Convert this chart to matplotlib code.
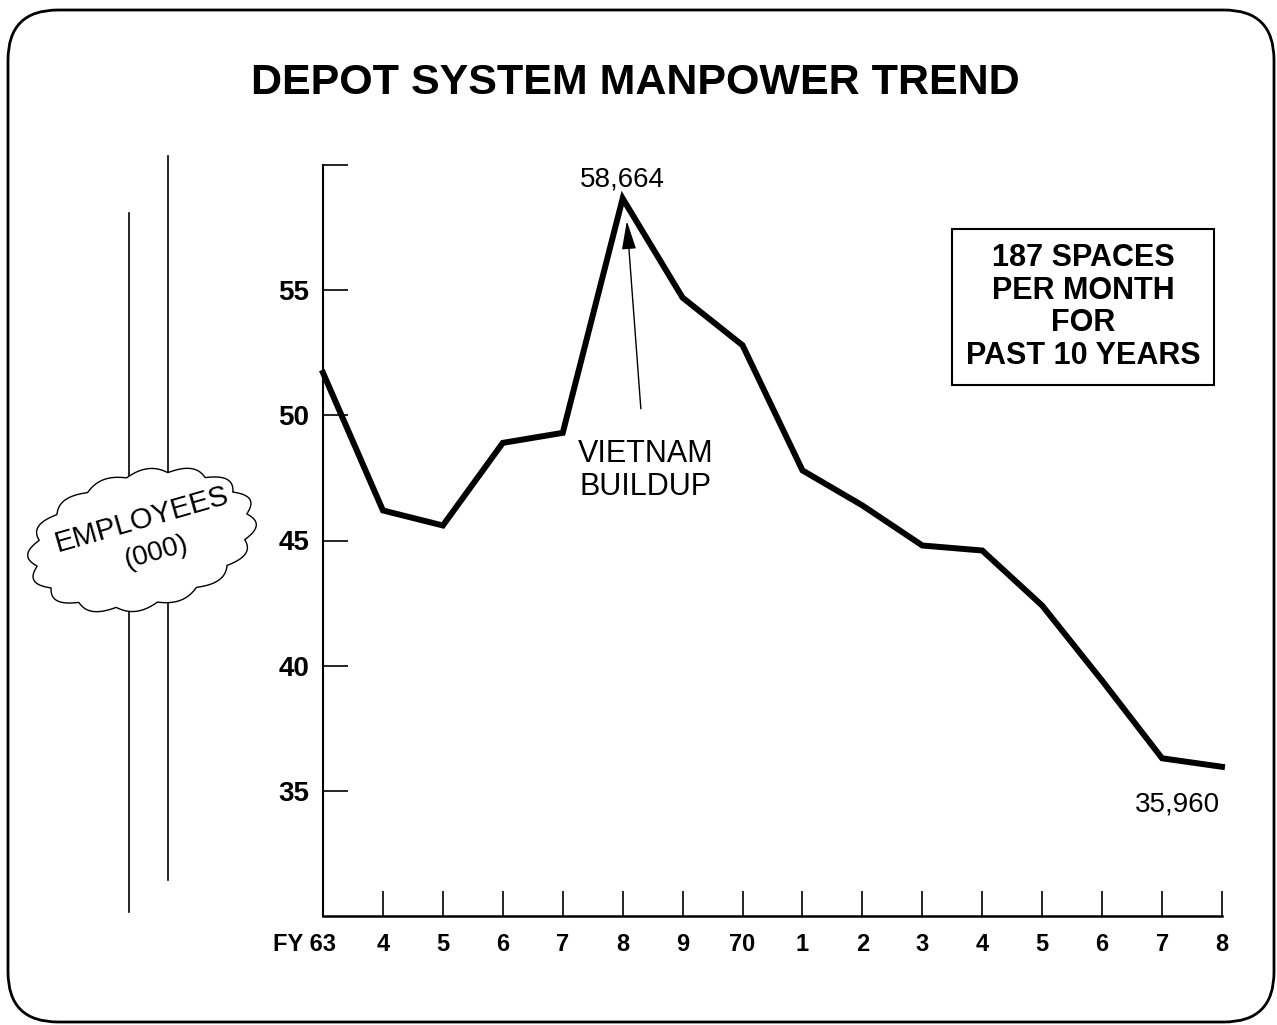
import numpy as np
import matplotlib.pyplot as plt
import matplotlib.transforms as mtransforms
from matplotlib.patches import FancyBboxPatch, Polygon
from matplotlib.lines import Line2D

years = ["FY 63", "4", "5", "6", "7", "8", "9", "70", "1", "2", "3", "4", "5", "6", "7", "8"]
employees = [51.7, 46.2, 45.6, 48.9, 49.3, 58.664, 54.7, 52.8, 47.8, 46.4, 44.8, 44.6, 42.4, 39.4, 36.3, 35.96]
y_ticks = [35, 40, 45, 50, 55, 60]
y_tick_labels = ["35", "40", "45", "50", "55", ""]

plt.rcParams['font.family'] = ['Liberation Sans', 'DejaVu Sans']

fig = plt.figure(figsize=(12.77, 10.25), dpi=100)
W, H = 1277, 1025


def px(x, y):
    # pixel position (from top-left) -> inches for dpi_scale_trans
    return x / 100, (H - y) / 100


# rounded card border
border = FancyBboxPatch(px(8, 1022), (1274 - 8) / 100, (1022 - 10) / 100,
                        boxstyle="round,pad=0,rounding_size=0.5",
                        transform=fig.dpi_scale_trans, fill=False,
                        lw=2.0, ec="black")
fig.patches.append(border)

fig.text(635 / W, 1 - 83 / H, "DEPOT SYSTEM MANPOWER TREND", ha="center", va="center",
         fontsize=31, fontweight="bold")

ax = fig.add_axes([323 / W, 1 - 916 / H, (1222 - 323) / W, (916 - 165) / H])
x = np.arange(len(years))
ax.plot(x, employees, color="black", lw=4.3, solid_joinstyle="miter", clip_on=False)
ax.set_xlim(0, len(years) - 1)
ax.set_ylim(30, 60)
for s in ["top", "right"]:
    ax.spines[s].set_visible(False)
ax.spines["left"].set_linewidth(1.5)
ax.spines["bottom"].set_linewidth(1.8)
ax.set_yticks(y_ticks)
ax.set_yticklabels(y_tick_labels, fontsize=20, fontweight="bold")
ax.tick_params(axis="y", direction="in", length=18, width=1.2, pad=10)
ax.set_xticks(x)
ax.set_xticklabels(years, fontsize=17, fontweight="bold")
ax.tick_params(axis="x", direction="in", length=18, width=1.2, pad=12)
first = ax.get_xticklabels()[0]
first.set_ha("right")
first.set_transform(first.get_transform() + mtransforms.ScaledTranslation(0.13, 0, fig.dpi_scale_trans))

# annotations
peak = int(np.argmax(employees))
ax.annotate(f"{employees[peak] * 1000:,.0f}", (x[peak], employees[peak]),
            xytext=(0, 4), textcoords="offset points", ha="center", va="bottom",
            fontsize=20)
ax.annotate(f"{employees[-1] * 1000:,.0f}", (x[-1], employees[-1]),
            xytext=(-32, -18), textcoords="offset points", ha="center", va="top",
            fontsize=20)
ax.annotate("VIETNAM\nBUILDUP", xy=(x[peak] + 0.07, employees[peak] - 0.9),
            xytext=(x[peak] + 0.38, 47.8), ha="center", va="center", fontsize=22,
            linespacing=1.1,
            arrowprops=dict(arrowstyle="-|>,head_length=0.8,head_width=0.2",
                            color="black", lw=1.0, shrinkA=20, shrinkB=0))

fig.text(1083 / W, 1 - 307 / H, "187 SPACES\nPER MONTH\nFOR\nPAST 10 YEARS",
         ha="center", va="center", fontsize=22, fontweight="bold", linespacing=1.12,
         bbox=dict(boxstyle="square,pad=0.45", fc="white", ec="black", lw=1.5))

# decorative vertical rules on the left
fig.add_artist(Line2D([129 / W, 129 / W], [1 - 912 / H, 1 - 213 / H], color="black", lw=1.2))
fig.add_artist(Line2D([168 / W, 168 / W], [1 - 880 / H, 1 - 156 / H], color="black", lw=1.2))

# cloud
t = np.linspace(0, 2 * np.pi, 800)
a, b, rot = 108, 64, np.deg2rad(14)
bump = 1 + 0.08 * np.abs(np.sin(8 * t))
ex = a * np.cos(t) * bump
ey = b * np.sin(t) * bump
cx = 142 + ex * np.cos(rot) - ey * np.sin(rot)
cy = 540 - (ex * np.sin(rot) + ey * np.cos(rot))
pts = np.column_stack([cx / 100, (H - cy) / 100])
fig.patches.append(Polygon(pts, closed=True, transform=fig.dpi_scale_trans,
                           fc="white", ec="black", lw=1.0, zorder=5))
fig.text(142 / W, 1 - 520 / H, "EMPLOYEES", rotation=16, ha="center", va="center",
         fontsize=21, zorder=6)
fig.text(156 / W, 1 - 553 / H, "(000)", rotation=16, ha="center", va="center",
         fontsize=20, zorder=6)

fig.savefig("out.png", dpi=100)
